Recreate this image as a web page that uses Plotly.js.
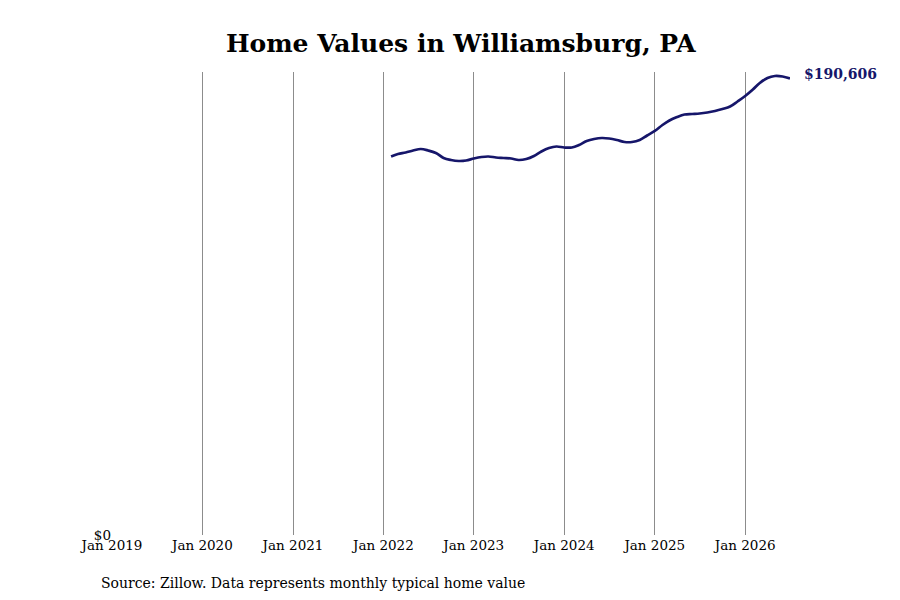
<!DOCTYPE html>
<html>
<head>
<meta charset="utf-8">
<script src="https://cdn.plot.ly/plotly-3.0.1.min.js"></script>
<style>
  html, body { margin: 0; padding: 0; background: #fff; }
  #chart { width: 900px; height: 600px; }
</style>
</head>
<body>
<div id="chart"></div>
<script>
// Typical home value, Williamsburg PA
const months = [
    '2022-02-01','2022-03-01','2022-04-01','2022-05-01','2022-06-01','2022-07-01','2022-08-01','2022-09-01','2022-10-01','2022-11-01','2022-12-01',
    '2023-01-01','2023-02-01','2023-03-01','2023-04-01','2023-05-01','2023-06-01','2023-07-01','2023-08-01','2023-09-01','2023-10-01','2023-11-01','2023-12-01',
    '2024-01-01','2024-02-01','2024-03-01','2024-04-01','2024-05-01','2024-06-01','2024-07-01','2024-08-01','2024-09-01','2024-10-01','2024-11-01','2024-12-01',
    '2025-01-01','2025-02-01','2025-03-01','2025-04-01','2025-05-01','2025-06-01','2025-07-01','2025-08-01','2025-09-01','2025-10-01','2025-11-01','2025-12-01',
    '2026-01-01','2026-02-01','2026-03-01','2026-04-01','2026-05-01','2026-06-01','2026-07-01'
];
const values = [
    158020, 159070, 159690, 160530, 161150, 160530, 159480, 157400, 156560, 156150, 156350,
    157190, 157810, 158020, 157610, 157400, 157190, 156560, 156980, 158230, 160110, 161570, 162200,
    161780, 161780, 162820, 164490, 165330, 165750, 165540, 164910, 164080, 164080, 164910, 166790,
    168670, 171170, 173050, 174510, 175560, 175770, 175980, 176390, 177020, 177850, 178900, 180990,
    183280, 186000, 188710, 190800, 191630, 191420, 190606
];
const yearTicks = ['2019-01-01','2020-01-01','2021-01-01','2022-01-01','2023-01-01','2024-01-01','2025-01-01','2026-01-01'];
const yearLabels = ['Jan 2019','Jan 2020','Jan 2021','Jan 2022','Jan 2023','Jan 2024','Jan 2025','Jan 2026'];

const lineColor = '#16166a';
const serif = 'DejaVu Serif, serif';

const lastVal = values[values.length - 1];
const lastLabel = '$' + lastVal.toLocaleString('en-US');

const trace = {
    x: months, y: values, type: 'scatter', mode: 'lines',
    line: { color: lineColor, width: 2.7, shape: 'spline', smoothing: 1 },
    hoverinfo: 'skip'
};

const layout = {
    width: 900, height: 600,
    paper_bgcolor: '#fff', plot_bgcolor: '#fff',
    font: { family: serif, color: '#000', size: 13 },
    margin: { l: 112, r: 110, t: 72, b: 65 },
    showlegend: false,
    title: { text: '<b>Home Values in Williamsburg, PA</b>', font: { family: serif, size: 25, color: '#000' },
             x: 0.512, xanchor: 'center', y: 0.928, yanchor: 'middle' },
    xaxis: {
        type: 'date', range: ['2019-01-01', '2026-07-01'],
        tickvals: yearTicks, ticktext: yearLabels,
        showgrid: true, gridcolor: '#8c8c8c', gridwidth: 1,
        zeroline: false, showline: false, ticks: '',
        tickfont: { family: serif, size: 13.5, color: '#000' }
    },
    yaxis: {
        range: [0, 193300], tickvals: [0], ticktext: ['$0'],
        showgrid: false, zeroline: false, showline: false, ticks: '',
        tickfont: { family: serif, size: 13.5, color: '#000' }
    },
    annotations: [
        { x: months[months.length - 1], y: lastVal, xref: 'x', yref: 'y', text: '<b>' + lastLabel + '</b>',
          showarrow: false, xanchor: 'left', yanchor: 'middle', xshift: 12, yshift: 4,
          font: { family: serif, size: 14, color: lineColor } },
        { x: -0.019, y: -0.104, xref: 'paper', yref: 'paper', text: 'Source: Zillow. Data represents monthly typical home value',
          showarrow: false, xanchor: 'left', yanchor: 'middle',
          font: { family: serif, size: 14, color: '#000' } }
    ]
};

Plotly.newPlot('chart', [trace], layout, { displayModeBar: false, staticPlot: true });
</script>
</body>
</html>
